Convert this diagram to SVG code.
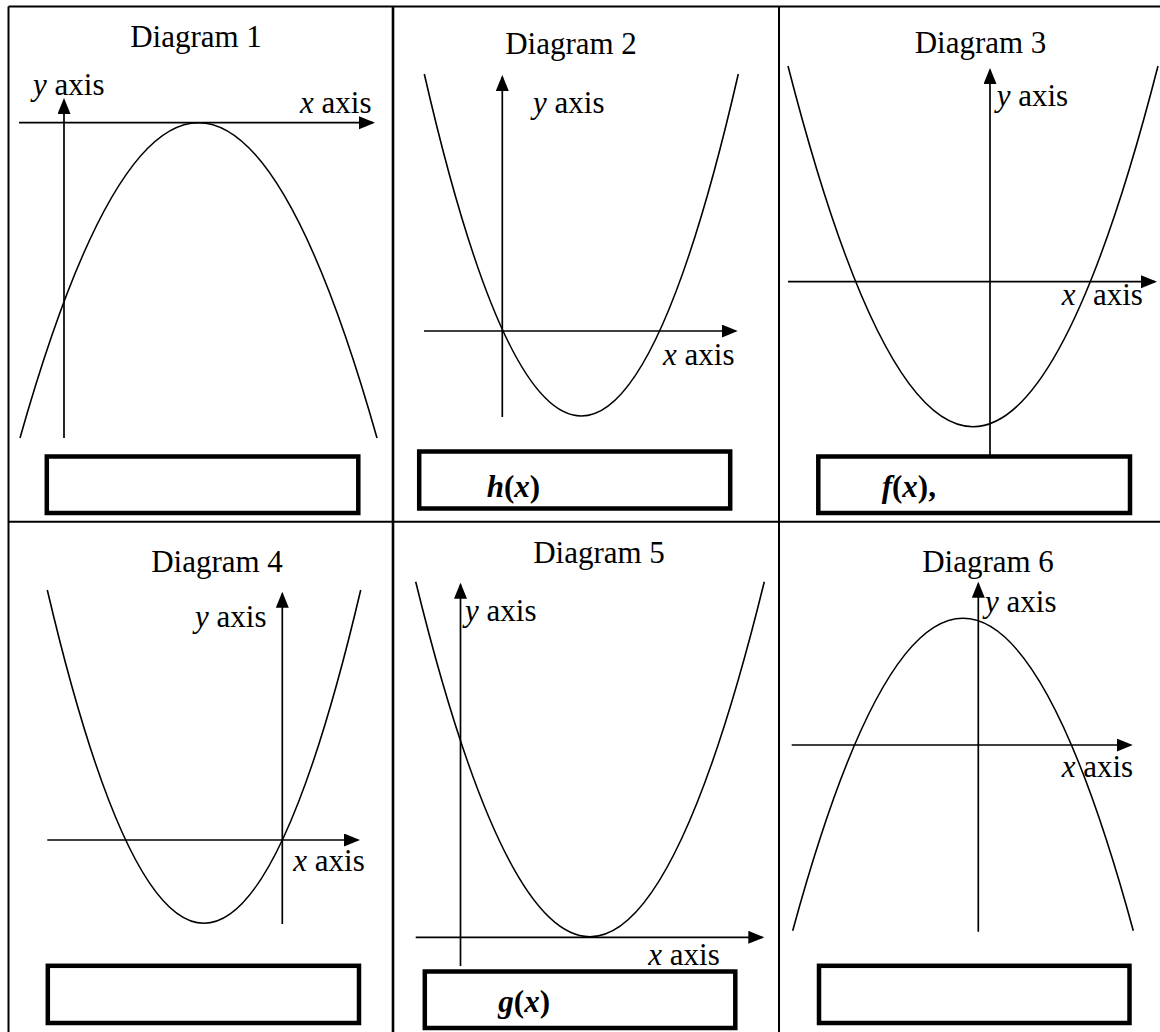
<svg xmlns="http://www.w3.org/2000/svg" width="1160" height="1032" viewBox="0 0 1160 1032">
<defs>
<marker id="ah" markerUnits="userSpaceOnUse" markerWidth="17" markerHeight="14" refX="14" refY="6.5" orient="auto">
<path d="M0,0 L16,6.5 L0,13 z" fill="#000"/>
</marker>
<style>
.grid{stroke:#000;stroke-width:2;fill:none}
.ax{stroke:#000;stroke-width:1.7;fill:none;marker-end:url(#ah)}
.cv{stroke:#000;stroke-width:1.6;fill:none}
.box{stroke:#000;stroke-width:4.5;fill:none}
text{font-family:'Liberation Serif','DejaVu Serif',serif;font-size:31px;fill:#000}
.t{text-anchor:middle}
.i{font-style:italic}
.b{font-weight:bold}
</style>
</defs>
<rect width="1160" height="1032" fill="#fff"/>
<g id="table">
<line class="grid" x1="8.5" y1="6.5" x2="1160" y2="6.5"/>
<line class="grid" x1="8.5" y1="6.5" x2="8.5" y2="1032"/>
<line class="grid" x1="393" y1="6.5" x2="393" y2="1032" style="stroke-width:2.6"/>
<line class="grid" x1="779" y1="6.5" x2="779" y2="1032"/>
<line class="grid" x1="8.5" y1="521.8" x2="1160" y2="521.8"/>
</g>
<g id="connectors">
<line class="ax" x1="19" y1="122.7" x2="373" y2="122.7"/>
<line class="ax" x1="64" y1="438" x2="64" y2="100"/>
<line class="ax" x1="424" y1="331" x2="735.7" y2="331"/>
<line class="ax" x1="502.3" y1="417" x2="502.3" y2="77"/>
<line class="ax" x1="788" y1="281.7" x2="1155" y2="281.7"/>
<line class="ax" x1="990" y1="455" x2="990" y2="70"/>
<line class="ax" x1="47.3" y1="840" x2="358" y2="840"/>
<line class="ax" x1="282.3" y1="924" x2="282.3" y2="593.7"/>
<line class="ax" x1="415.7" y1="937.3" x2="762.3" y2="937.3"/>
<line class="ax" x1="460.5" y1="966" x2="460.5" y2="584.7"/>
<line class="ax" x1="791.7" y1="745" x2="1130.7" y2="745"/>
<line class="ax" x1="978.3" y1="931.7" x2="978.3" y2="583.7"/>
</g>
<g id="diagram1" font-family="Liberation Serif, DejaVu Serif, serif">
<text class="t" x="196" y="47">Diagram 1</text>
<path class="cv" d="M20,438 Q198.5,-192.6 377,438"/>
<text x="33" y="95"><tspan class="i">y</tspan> axis</text>
<text x="300" y="113"><tspan class="i">x</tspan> axis</text>
<rect class="box" x="46.8" y="456.5" width="311.5" height="56.5"/>
</g>
<g id="diagram2" font-family="Liberation Serif, DejaVu Serif, serif">
<text class="t" x="571" y="54">Diagram 2</text>
<path class="cv" d="M424.3,74 Q581.3,758 738.3,74"/>
<text x="533" y="113"><tspan class="i">y</tspan> axis</text>
<text x="663" y="365"><tspan class="i">x</tspan> axis</text>
<rect class="box" x="419.2" y="451.5" width="311" height="57"/>
<text class="b" x="486.7" y="496.7"><tspan class="i">h</tspan>(<tspan class="i">x</tspan>)</text>
</g>
<g id="diagram3" font-family="Liberation Serif, DejaVu Serif, serif">
<text class="t" x="980.5" y="52.7">Diagram 3</text>
<path class="cv" d="M788,66 Q973,787.4 1158,66"/>
<text x="996.7" y="106"><tspan class="i">y</tspan> axis</text>
<text y="305"><tspan class="i" x="1061.7">x</tspan><tspan x="1093">axis</tspan></text>
<rect class="box" x="818.3" y="456.5" width="311.7" height="56.5"/>
<text class="b" x="881.7" y="496.7"><tspan class="i">f</tspan>(<tspan class="i">x</tspan>),</text>
</g>
<g id="diagram4" font-family="Liberation Serif, DejaVu Serif, serif">
<text class="t" x="217" y="571.7">Diagram 4</text>
<path class="cv" d="M47.3,590 Q204,1256.6 360.7,590"/>
<text x="195" y="627.3"><tspan class="i">y</tspan> axis</text>
<text x="293.3" y="870.7"><tspan class="i">x</tspan> axis</text>
<rect class="box" x="47.8" y="965.8" width="311.2" height="57.2"/>
</g>
<g id="diagram5" font-family="Liberation Serif, DejaVu Serif, serif">
<text class="t" x="599" y="562.7">Diagram 5</text>
<path class="cv" d="M415.7,581.7 Q590,1291.7 764.3,581.7"/>
<text x="465" y="620.7"><tspan class="i">y</tspan> axis</text>
<text x="648.3" y="965"><tspan class="i">x</tspan> axis</text>
<rect class="box" x="424.8" y="971.5" width="310.5" height="56.5"/>
<text class="b" x="498.3" y="1011.7"><tspan class="i">g</tspan>(<tspan class="i">x</tspan>)</text>
</g>
<g id="diagram6" font-family="Liberation Serif, DejaVu Serif, serif">
<text class="t" x="988" y="571.7">Diagram 6</text>
<path class="cv" d="M792.7,930.7 Q963,305.9 1133.3,930.7"/>
<text x="985" y="611.7"><tspan class="i">y</tspan> axis</text>
<text x="1061.7" y="776.7"><tspan class="i">x</tspan> axis</text>
<rect class="box" x="819" y="965.8" width="310.5" height="57.2"/>
</g>
</svg>
